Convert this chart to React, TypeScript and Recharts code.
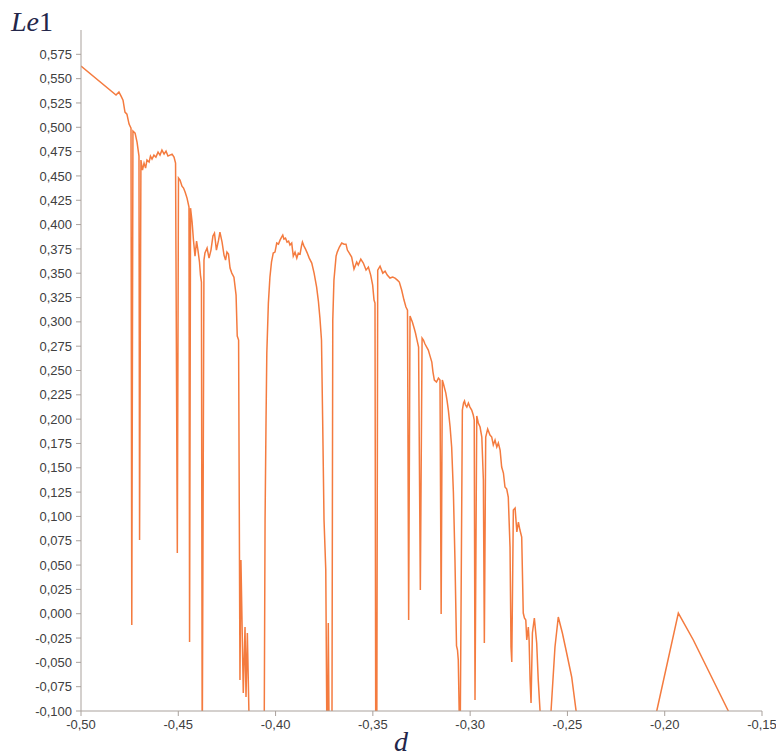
import React from 'react'
import { LineChart, Line, XAxis, YAxis } from 'recharts'

// [d, Le1], grouped by region
const leftShoulder: [number, number][] = [
  [-0.5, 0.5629], [-0.482, 0.5331], [-0.4805, 0.5362], [-0.4794, 0.532], [-0.4784, 0.5279],
  [-0.4774, 0.5156], [-0.4764, 0.5135], [-0.4753, 0.5033], [-0.4743, 0.4992], [-0.4739, -0.0116],
  [-0.4733, 0.4961], [-0.4722, 0.494], [-0.4712, 0.4848], [-0.4702, 0.4704], [-0.4699, 0.0757],
]

const firstPlateau: [number, number][] = [
  [-0.4692, 0.4663], [-0.4684, 0.456], [-0.4676, 0.4632], [-0.4668, 0.458], [-0.4661, 0.4663],
  [-0.465, 0.4642], [-0.4643, 0.4704], [-0.4635, 0.4673], [-0.4625, 0.4714], [-0.4615, 0.4693],
  [-0.4604, 0.4745], [-0.4594, 0.4714], [-0.4584, 0.4765], [-0.4573, 0.4724], [-0.4563, 0.4755],
  [-0.4553, 0.4704], [-0.4543, 0.4714], [-0.4532, 0.4724], [-0.4522, 0.4693], [-0.4514, 0.4632],
  [-0.4505, 0.0624], [-0.4499, 0.4478], [-0.4491, 0.4457], [-0.4481, 0.4395], [-0.4473, 0.4375],
  [-0.4465, 0.4334], [-0.4455, 0.4272], [-0.4445, 0.418], [-0.4442, -0.0291], [-0.4437, 0.4169],
  [-0.4429, 0.4025], [-0.4422, 0.384], [-0.4414, 0.3676], [-0.4406, 0.383], [-0.4399, 0.3738],
  [-0.4391, 0.3614], [-0.4386, 0.3481], [-0.4381, 0.3409], [-0.4377, -0.1504],
]

const secondHump: [number, number][] = [
  [-0.4368, 0.3635], [-0.4363, 0.3707], [-0.4352, 0.3758], [-0.4342, 0.3655], [-0.4332, 0.3738],
  [-0.4322, 0.3882], [-0.4314, 0.3912], [-0.4304, 0.3738], [-0.4293, 0.384], [-0.4286, 0.3923],
  [-0.4275, 0.382], [-0.4265, 0.3686], [-0.4257, 0.3635], [-0.425, 0.3717], [-0.4242, 0.3697],
  [-0.4234, 0.3553], [-0.4225, 0.3501], [-0.4214, 0.346], [-0.4203, 0.3275], [-0.4197, 0.2854],
  [-0.419, 0.2813], [-0.4183, -0.0681], [-0.4178, 0.0552], [-0.4166, -0.0815], [-0.4157, -0.0137],
  [-0.4152, -0.0856], [-0.4145, -0.0198], [-0.4137, -0.101], [-0.4129, -0.1504], [-0.4101, -0.1709],
  [-0.407, -0.1504], [-0.4058, -0.101],
]

const thirdHump: [number, number][] = [
  [-0.4054, 0.0963], [-0.4049, 0.1991], [-0.4045, 0.2679], [-0.4037, 0.3193], [-0.4029, 0.346],
  [-0.4021, 0.3614], [-0.4012, 0.3707], [-0.4003, 0.3717], [-0.3994, 0.381], [-0.3985, 0.3799],
  [-0.3977, 0.384], [-0.3969, 0.3871], [-0.3963, 0.3892], [-0.3957, 0.3851], [-0.3949, 0.3861],
  [-0.3941, 0.382], [-0.3933, 0.383], [-0.3926, 0.3789], [-0.3917, 0.381], [-0.3909, 0.3676],
  [-0.39, 0.3717], [-0.3891, 0.3655], [-0.3883, 0.3707], [-0.3874, 0.3697], [-0.3867, 0.3779],
  [-0.3862, 0.382], [-0.3854, 0.3779], [-0.3846, 0.3748], [-0.3837, 0.3707], [-0.3827, 0.3655],
  [-0.3814, 0.3604], [-0.3802, 0.3501], [-0.3789, 0.3357], [-0.378, 0.3214], [-0.3772, 0.3039],
  [-0.3764, 0.2813], [-0.3758, 0.1991], [-0.3751, 0.0963], [-0.3742, 0.0449], [-0.3737, -0.101],
  [-0.3733, -0.1504], [-0.3729, -0.0096], [-0.3724, -0.1504], [-0.3715, -0.1504], [-0.371, -0.101],
]

const fourthHump: [number, number][] = [
  [-0.3706, 0.3018], [-0.37, 0.3429], [-0.3689, 0.3676], [-0.3683, 0.3717], [-0.3672, 0.3769],
  [-0.366, 0.381], [-0.3648, 0.3799], [-0.3638, 0.3799], [-0.3631, 0.3738], [-0.3621, 0.3707],
  [-0.3609, 0.3666], [-0.3597, 0.3542], [-0.3583, 0.3614], [-0.3575, 0.3584], [-0.3562, 0.3645],
  [-0.3549, 0.3604], [-0.3535, 0.3532], [-0.3523, 0.3563], [-0.3511, 0.3481], [-0.3501, 0.3378],
  [-0.3494, 0.3224], [-0.3489, 0.3193], [-0.3485, -0.1504], [-0.348, -0.1504],
]

const decline: [number, number][] = [
  [-0.3475, 0.3532], [-0.3463, 0.3573], [-0.3449, 0.3501], [-0.3437, 0.3522], [-0.3426, 0.3481],
  [-0.3412, 0.345], [-0.3398, 0.346], [-0.3386, 0.345], [-0.3374, 0.3429], [-0.3364, 0.3409],
  [-0.3352, 0.3327], [-0.334, 0.3224], [-0.333, 0.3152], [-0.3322, 0.3121], [-0.3316, -0.0065],
  [-0.3309, 0.3059], [-0.3297, 0.2998], [-0.3288, 0.2936], [-0.3281, 0.2885], [-0.3273, 0.2813],
  [-0.3265, 0.2741], [-0.3256, 0.0244], [-0.3247, 0.2833], [-0.324, 0.2813], [-0.3232, 0.2772],
  [-0.3215, 0.271], [-0.3206, 0.2648], [-0.3197, 0.2587], [-0.3191, 0.2484], [-0.3184, 0.2402],
  [-0.3173, 0.2381], [-0.3163, 0.2422], [-0.3155, 0.2402], [-0.3149, -0.0003], [-0.3143, 0.2402],
  [-0.3137, 0.2361], [-0.3125, 0.2268], [-0.3119, 0.2196], [-0.3112, 0.2093], [-0.3103, 0.1919],
  [-0.3095, 0.1713], [-0.3086, 0.124], [-0.3078, 0.0552], [-0.307, -0.0332], [-0.3065, -0.0373],
  [-0.3061, -0.0476], [-0.3052, -0.1504],
]

const lowerSteps: [number, number][] = [
  [-0.304, 0.2093], [-0.3034, 0.2165], [-0.3029, 0.2186], [-0.3024, 0.2145], [-0.3017, 0.2124],
  [-0.3009, 0.2165], [-0.3001, 0.2124], [-0.2992, 0.2093], [-0.2984, 0.2042], [-0.2979, 0.1991],
  [-0.2975, -0.0887], [-0.2966, 0.2032], [-0.2958, 0.196], [-0.2949, 0.1919], [-0.294, 0.1816],
  [-0.2932, 0.1374], [-0.2927, -0.0301], [-0.292, 0.1816], [-0.291, 0.1898], [-0.2898, 0.1836],
  [-0.2889, 0.1816], [-0.2881, 0.1734], [-0.2872, 0.1785], [-0.2863, 0.1713], [-0.2855, 0.1754],
  [-0.2846, 0.1682], [-0.2838, 0.1508], [-0.2829, 0.1446], [-0.2821, 0.1302], [-0.2812, 0.1281],
  [-0.2804, 0.1199], [-0.2795, 0.0685], [-0.279, -0.0342], [-0.2786, -0.0496], [-0.2778, 0.1066],
  [-0.2769, 0.1086], [-0.276, 0.084], [-0.2752, 0.0942], [-0.2744, 0.086], [-0.2735, 0.0788],
  [-0.2727, 0.0007], [-0.2721, -0.0044], [-0.2714, -0.0065], [-0.2709, -0.027], [-0.2701, -0.0137],
  [-0.2697, -0.027], [-0.2692, -0.0681], [-0.2687, -0.0918], [-0.268, -0.0198], [-0.267, -0.0044],
  [-0.2658, -0.0301], [-0.265, -0.0681], [-0.2641, -0.099],
]

const tail: [number, number][] = [
  [-0.263, -0.1349], [-0.2594, -0.1319], [-0.2584, -0.099], [-0.2564, -0.0342], [-0.2547, -0.0034],
  [-0.2526, -0.0198], [-0.2504, -0.0404], [-0.2478, -0.0651], [-0.2456, -0.099], [-0.2435, -0.1236],
  [-0.2075, -0.1311], [-0.2041, -0.1], [-0.193, 0.0007], [-0.1853, -0.027], [-0.1673, -0.1],
  [-0.15, -0.1678],
]

const dTicks = [-0.5, -0.45, -0.4, -0.35, -0.3, -0.25, -0.2, -0.15]
const le1Ticks = [
  -0.1, -0.075, -0.05, -0.025, 0, 0.025, 0.05, 0.075, 0.1, 0.125, 0.15, 0.175, 0.2, 0.225,
  0.25, 0.275, 0.3, 0.325, 0.35, 0.375, 0.4, 0.425, 0.45, 0.475, 0.5, 0.525, 0.55, 0.575,
]

const data = [
  ...leftShoulder, ...firstPlateau, ...secondHump, ...thirdHump,
  ...fourthHump, ...decline, ...lowerSteps, ...tail,
].map(([d, le1]) => ({ d, le1 }))

const axisColor = '#a9a19c'
const tickStyle = { fill: '#404040', fontSize: 13, fontFamily: '"Liberation Sans", Arial, sans-serif' }
const comma = (v: number, digits: number) => v.toFixed(digits).replace('.', ',')

export default function App() {
  return (
    <div style={{ position: 'absolute', left: 0, top: 0, width: 776, height: 756, background: '#fff' }}>
      <LineChart width={776} height={756} data={data} margin={{ top: 30, right: 14, bottom: 15, left: 0 }}>
        <XAxis
          type="number"
          dataKey="d"
          domain={[-0.5, -0.15]}
          ticks={dTicks}
          tickFormatter={(v) => comma(v, 2)}
          allowDataOverflow
          height={30}
          stroke={axisColor}
          tick={tickStyle}
          tickSize={5}
          tickMargin={4}
        />
        <YAxis
          type="number"
          domain={[-0.1, 0.6]}
          ticks={le1Ticks}
          tickFormatter={(v) => comma(v, 3)}
          allowDataOverflow
          width={81}
          stroke={axisColor}
          tick={tickStyle}
          tickSize={5}
          tickMargin={4}
        />
        <Line
          type="linear"
          dataKey="le1"
          stroke="#f47b3f"
          strokeWidth={1.5}
          dot={false}
          isAnimationActive={false}
        />
      </LineChart>
      <div
        style={{
          position: 'absolute', left: 11, top: 8, fontFamily: '"Liberation Serif", serif',
          fontSize: 28, lineHeight: 1, color: '#23264a',
        }}
      >
        <i>Le</i>1
      </div>
      <div
        style={{
          position: 'absolute', left: 394, top: 728, fontFamily: '"Liberation Serif", serif',
          fontSize: 28, lineHeight: 1, color: '#23264a', fontStyle: 'italic',
        }}
      >
        d
      </div>
    </div>
  )
}
